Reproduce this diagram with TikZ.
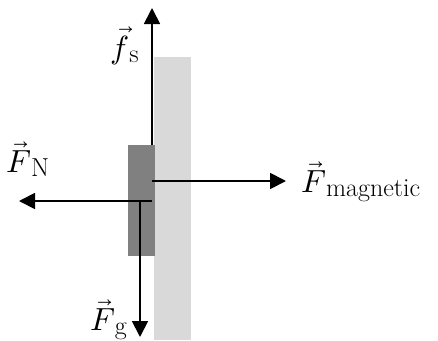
\documentclass[tikz,border=0pt]{standalone}
\usepackage{unicode-math}
\setmathfont{Latin Modern Math}
\usetikzlibrary{arrows.meta}
\newcommand{\lsub}[1]{\raisebox{-4pt}{\fontsize{26}{28}\selectfont #1}}
\begin{document}
\begin{tikzpicture}[x=1pt,y=-1pt,
  force/.style={line width=1.8pt,-{Triangle[length=16pt,width=16pt]}},
  lbl/.style={font=\fontsize{32}{34}\selectfont,inner sep=0pt}]
\useasboundingbox (0,0) rectangle (438,340);

% wall and magnet block
\node[fill=black!15,inner sep=0pt,minimum width=37pt,minimum height=283pt,anchor=north west] (wall) at (154,57) {};
\node[fill=black!50,inner sep=0pt,minimum width=27pt,minimum height=111pt,anchor=north west] (block) at (128,145) {};

% arrow ends
\coordinate (fsbase) at (152,145);
\coordinate (fstip) at (152,8);
\coordinate (magbase) at (152,181);
\coordinate (magtip) at (286,181);
\coordinate (nbase) at (152,201);
\coordinate (ntip) at (19,201);
\coordinate (gbase) at (140,201);
\coordinate (gtip) at (140,337);

% forces
\draw[force] (fsbase) -- (fstip);
\draw[force] (magbase) -- (magtip);
\draw[force] (nbase) -- (ntip);
\draw[force] (gbase) -- (gtip);

% labels
\node[lbl,anchor=base east] (fs) at (139,58) {$\vec{f}$\lsub{s}};
\node[lbl,anchor=base west] (fmag) at (301,192) {$\vec{F}$\lsub{magnetic}};
\node[lbl,anchor=base west] (fn) at (6,172) {$\vec{F}$\lsub{N}};
\node[lbl,anchor=base east] (fg) at (127,330) {$\vec{F}$\lsub{g}};
\end{tikzpicture}
\end{document}
